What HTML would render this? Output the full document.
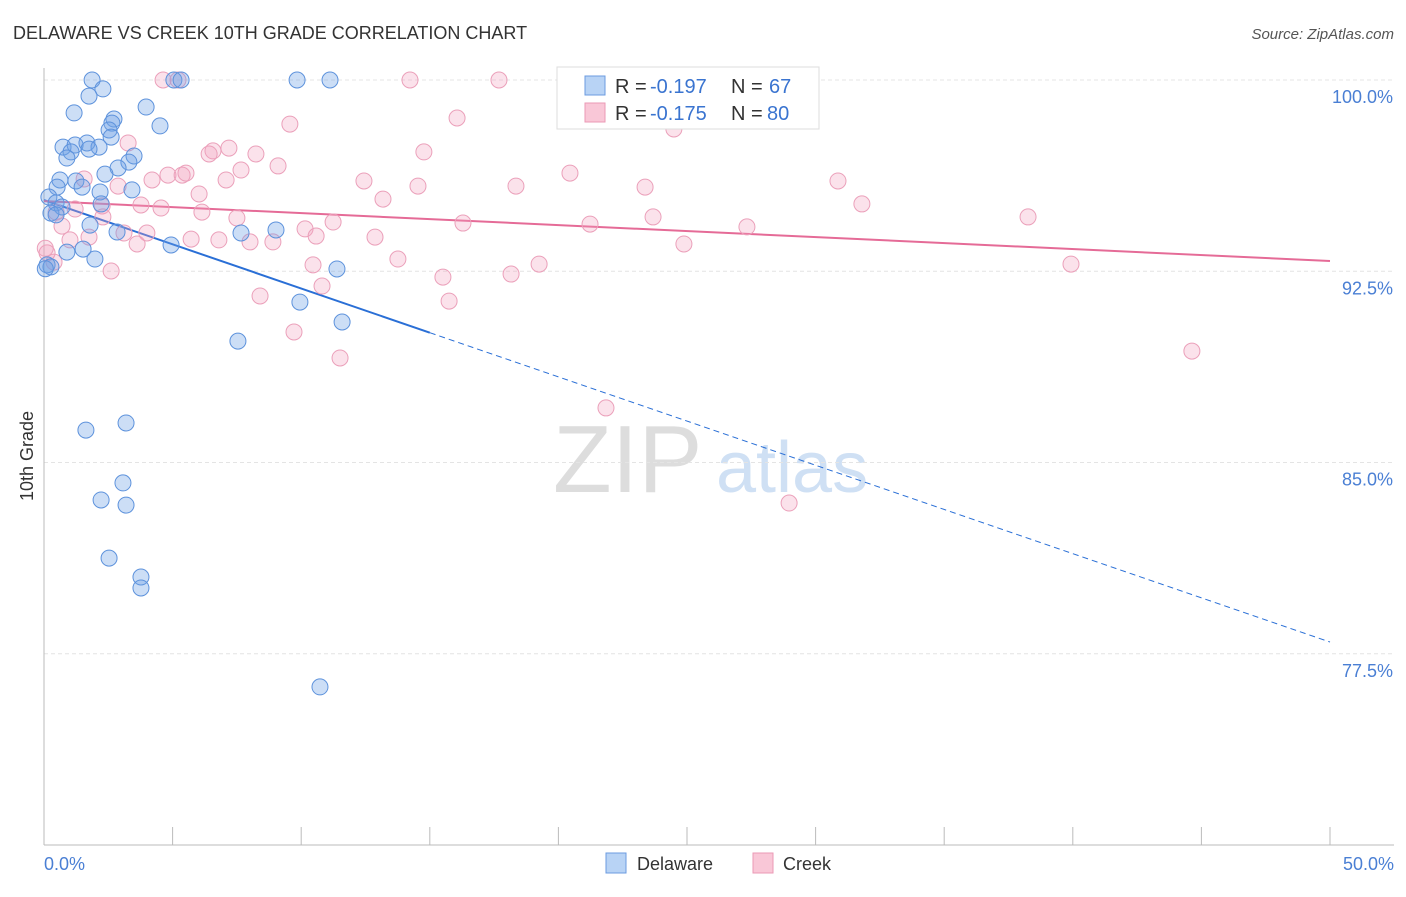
<!DOCTYPE html>
<html><head><meta charset="utf-8">
<style>
body{margin:0;background:#fff;font-family:"Liberation Sans",sans-serif;}
svg text{font-family:"Liberation Sans",sans-serif;}
</style></head>
<body>
<svg id="chart" width="1406" height="892" xmlns="http://www.w3.org/2000/svg">
<text x="13" y="39" font-size="18" fill="#333">DELAWARE VS CREEK 10TH GRADE CORRELATION CHART</text>
<text x="1394" y="39" font-size="15" fill="#555" text-anchor="end" font-style="italic">Source: ZipAtlas.com</text>
<g>
<text x="553" y="492" font-size="96" fill="#ddd" font-family="Liberation Serif">ZIP</text>
<text x="716" y="492" font-size="72" fill="#cfe0f4">atlas</text>
</g>
<g id="grid"></g>
<g id="axes"></g>
<g id="trends"></g>
<g id="pts"></g>
<text transform="translate(33,456) rotate(-90)" font-size="18" fill="#333" text-anchor="middle">10th Grade</text>
<text x="44" y="870" font-size="18" fill="#4a7fd4">0.0%</text>
<text x="1394" y="870" font-size="18" fill="#4a7fd4" text-anchor="end">50.0%</text>
<g>
<rect x="557" y="67" width="262" height="62" fill="#fff" stroke="#ddd"/>
<rect x="585" y="76" width="20" height="19" fill="#b8d3f5" stroke="#6b9be0"/>
<rect x="585" y="103" width="20" height="19" fill="#f9c7d7" stroke="#eb9ab5"/>
<text x="615" y="93" font-size="20" fill="#333">R =</text>
<text x="650" y="93" font-size="20" fill="#3a74d0">-0.197</text>
<text x="731" y="93" font-size="20" fill="#333">N =</text>
<text x="769" y="93" font-size="20" fill="#3a74d0">67</text>
<text x="615" y="120" font-size="20" fill="#333">R =</text>
<text x="650" y="120" font-size="20" fill="#3a74d0">-0.175</text>
<text x="731" y="120" font-size="20" fill="#333">N =</text>
<text x="767" y="120" font-size="20" fill="#3a74d0">80</text>
</g>
<g>
<rect x="606" y="853" width="20" height="20" fill="#b8d3f5" stroke="#6b9be0"/>
<text x="637" y="870" font-size="18" fill="#333">Delaware</text>
<rect x="753" y="853" width="20" height="20" fill="#f9c7d7" stroke="#eb9ab5"/>
<text x="783" y="870" font-size="18" fill="#333">Creek</text>
</g>
</svg>
<script>
const yTicks=[100,92.5,85,77.5];
const yTickLabels=["100.0%","92.5%","85.0%","77.5%"];
const blueX=[1.87,5.05,5.33,9.84,11.12,2.29,1.75,3.97,1.17,2.72,2.64,4.51,2.53,2.61,0.74,1.21,1.67,2.14,1.05,3.50,0.89,1.75,3.30,2.88,2.37,0.62,1.24,0.51,1.48,2.18,3.42,0.19,0.47,2.22,0.70,0.27,0.47,1.79,2.84,7.66,9.02,4.94,1.52,0.89,1.98,0.12,0.27,11.39,9.95,11.59,7.54,1.63,3.19,3.07,2.22,3.19,2.53,3.77,3.77,10.73,0.05];
const blueY=[100,100,100,100,100,99.65,99.37,98.94,98.71,98.47,98.31,98.20,98.04,97.76,97.37,97.45,97.53,97.37,97.18,97.02,96.94,97.29,96.78,96.55,96.31,96.08,96.04,95.80,95.80,95.61,95.69,95.41,95.18,95.14,95.02,94.78,94.71,94.31,94.04,94.0,94.12,93.53,93.37,93.25,92.98,92.75,92.67,92.59,91.29,90.51,89.76,86.27,86.55,84.20,83.53,83.33,81.25,80.51,80.08,76.20,92.6];
const pinkX=[14.23,17.69,5.21,22.40,22.90,16.06,24.49,9.56,3.27,14.77,7.19,6.57,8.24,6.42,9.10,7.66,1.56,4.82,5.37,4.20,7.08,5.52,2.88,12.44,14.54,18.35,20.45,23.37,30.87,6.03,13.18,31.80,3.77,2.26,4.55,6.14,1.21,0.47,2.29,7.50,11.24,16.29,21.23,23.68,27.33,38.26,0.70,1.75,3.11,4.00,5.72,6.80,8.01,8.90,10.15,10.58,12.87,3.62,24.88,0.12,0.39,2.61,13.76,10.46,15.51,18.16,19.25,39.93,8.40,10.81,15.75,9.72,11.51,44.63,21.85,28.97,4.63,1.01,0.05];
const pinkY=[100,100,100,100,100,98.51,98.08,98.27,97.53,97.18,97.33,97.22,97.10,97.10,96.63,96.47,96.12,96.27,96.27,96.08,96.08,96.35,95.84,96.04,95.84,95.84,96.35,95.80,96.04,95.53,95.33,95.14,95.10,95.06,94.98,94.82,94.94,94.82,94.63,94.59,94.43,94.39,94.35,94.63,94.24,94.63,94.27,93.84,94.0,94.0,93.76,93.73,93.65,93.65,94.16,93.88,93.84,93.57,93.57,93.22,92.86,92.51,92.98,92.75,92.27,92.39,92.78,92.78,91.53,91.92,91.33,90.12,89.10,89.37,87.14,83.41,100,93.73,93.4];
const blueTrend=[95.29,77.96];
const pinkTrend=[95.25,92.9];
const NS="http://www.w3.org/2000/svg";
const xs=v=>44+v/50*1286;
const ys=v=>80+(100-v)*25.5;
function mk(t,a,p){const e=document.createElementNS(NS,t);for(const k in a)e.setAttribute(k,a[k]);p.appendChild(e);return e;}
const grid=document.getElementById('grid'),axes=document.getElementById('axes');
yTicks.forEach((v,i)=>{
 const l=mk('line',{x1:44,x2:1394,y1:ys(v),y2:ys(v),stroke:'#e4e4e4','stroke-dasharray':'4,3'},grid);
 
 
 const t=mk('text',{x:1393,y:ys(v)+23,'font-size':18,fill:'#4a7fd4','text-anchor':'end'},axes);
 t.textContent=yTickLabels[i];
 
 
});
mk('line',{x1:44,x2:44,y1:68,y2:845,stroke:'#bbb'},axes);
mk('line',{x1:44,x2:1394,y1:845,y2:845,stroke:'#bbb'},axes);
for(let i=0;i<=10;i++){const tk=mk('line',{x1:xs(i*5),x2:xs(i*5),y1:827,y2:845,stroke:'#bbb'},axes);
 
 }
const tr=document.getElementById('trends');
const bx=15.0;
const by=blueTrend[0]+(blueTrend[1]-blueTrend[0])*bx/50;
const b1=mk('line',{x1:xs(0),y1:ys(blueTrend[0]),x2:xs(bx),y2:ys(by),stroke:'#2a6fd6','stroke-width':2},tr);


const b2=mk('line',{x1:xs(bx),y1:ys(by),x2:xs(50),y2:ys(blueTrend[1]),stroke:'#2a6fd6','stroke-width':1,'stroke-dasharray':'6,4'},tr);


const p1=mk('line',{x1:xs(0),y1:ys(pinkTrend[0]),x2:xs(50),y2:ys(pinkTrend[1]),stroke:'#e56b97','stroke-width':2},tr);


const pts=document.getElementById('pts');
pinkX.forEach((x,i)=>{const c=mk('circle',{cx:xs(x),cy:ys(pinkY[i]),r:8,fill:'rgba(243,160,190,0.3)',stroke:'#eba0ba','stroke-width':1},pts);
 
 });
blueX.forEach((x,i)=>{const c=mk('circle',{cx:xs(x),cy:ys(blueY[i]),r:8,fill:'rgba(110,160,230,0.35)',stroke:'#5d92dc','stroke-width':1},pts);
 
 });
</script>
</body></html>
